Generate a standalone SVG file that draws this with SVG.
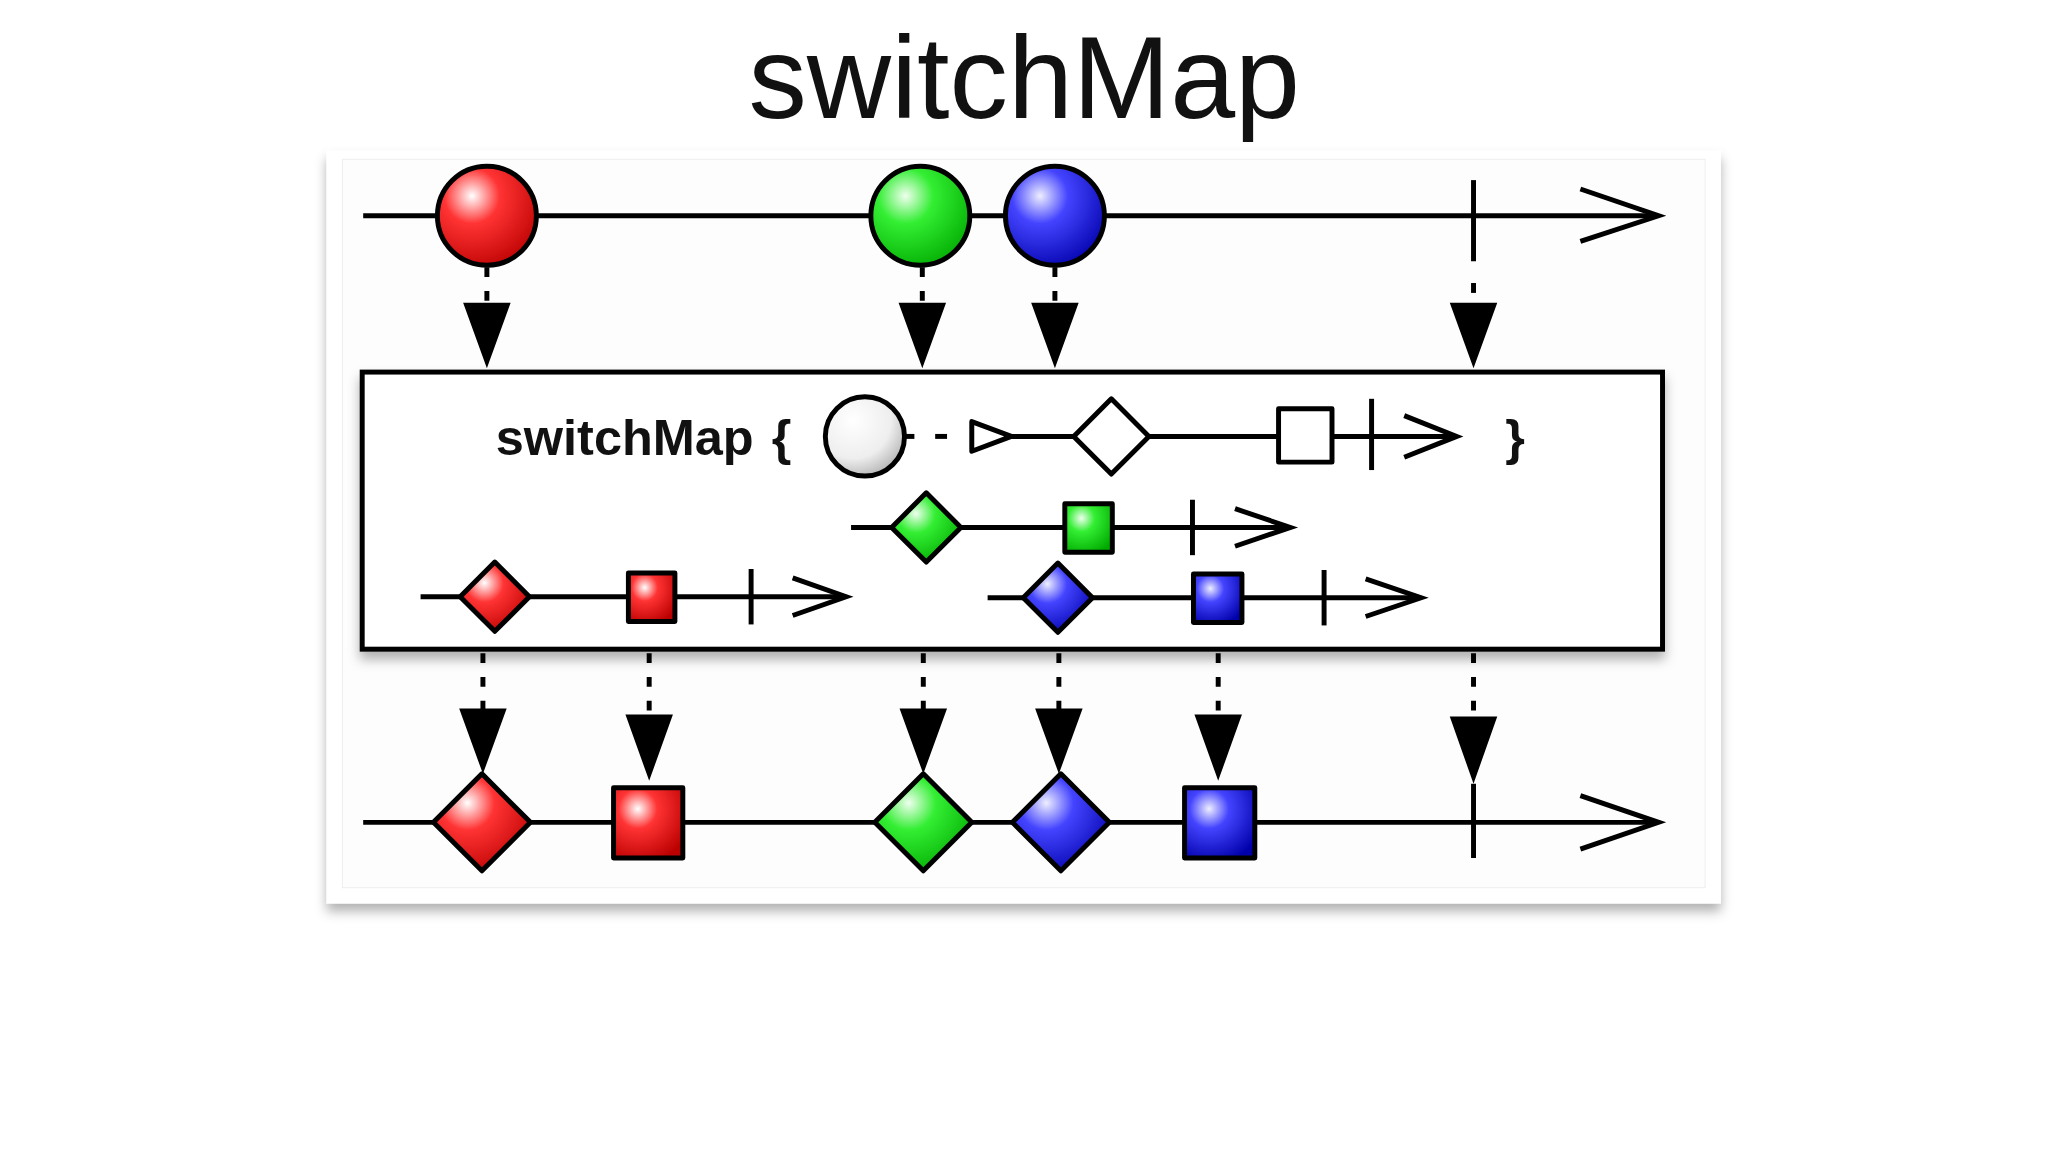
<svg xmlns="http://www.w3.org/2000/svg" width="2048" height="1152" viewBox="0 0 2048 1152">
<defs>
<style>
.ln{stroke:#000;stroke-width:5;fill:none}
.sh{stroke:#000;stroke-width:5;stroke-linejoin:round}
.ds{stroke:#000;stroke-width:5;stroke-dasharray:10 14;fill:none}
.t{font-family:"Liberation Sans",Arial,sans-serif}
</style>
<radialGradient id="gr" cx="0.35" cy="0.3" r="0.8"><stop offset="0" stop-color="#fff"/><stop offset="0.35" stop-color="#f33"/><stop offset="1" stop-color="#b00"/></radialGradient>
<radialGradient id="gg" cx="0.35" cy="0.3" r="0.8"><stop offset="0" stop-color="#efe"/><stop offset="0.35" stop-color="#3e3"/><stop offset="1" stop-color="#0a0"/></radialGradient>
<radialGradient id="gb" cx="0.35" cy="0.3" r="0.8"><stop offset="0" stop-color="#eef"/><stop offset="0.35" stop-color="#44f"/><stop offset="1" stop-color="#00a"/></radialGradient>
<radialGradient id="gw" cx="0.35" cy="0.3" r="0.8"><stop offset="0" stop-color="#fff"/><stop offset="0.6" stop-color="#eee"/><stop offset="1" stop-color="#aaa"/></radialGradient>
<filter id="sd" x="-5%" y="-5%" width="110%" height="115%"><feDropShadow dx="0" dy="8" stdDeviation="6" flood-color="#000" flood-opacity="0.3"/></filter>
</defs>
<rect width="2048" height="1152" fill="#fff"/>
<g transform="scale(0.9896)">
<text class="t" x="1035" y="119" font-size="118" text-anchor="middle" fill="#111">switchMap</text>
<g id="card">
<rect x="330" y="152" width="1409" height="761" fill="#fff" filter="url(#sd)"/>
<rect x="346" y="161" width="1377" height="736" fill="#fdfdfd" stroke="#eee" stroke-width="1"/>
</g>
<g id="connectors">
<line class="ds" x1="492" y1="270" x2="492" y2="310"/>
<line class="ds" x1="932" y1="270" x2="932" y2="310"/>
<line class="ds" x1="1066" y1="270" x2="1066" y2="310"/>
<line class="ds" x1="1489" y1="286" x2="1489" y2="310"/>
<path d="M468 306 L516 306 L492 372Z M908 306 L956 306 L932 372Z M1042 306 L1090 306 L1066 372Z M1465 306 L1513 306 L1489 372Z"/>
<line class="ds" x1="488" y1="660" x2="488" y2="720"/>
<line class="ds" x1="656" y1="660" x2="656" y2="720"/>
<line class="ds" x1="933" y1="660" x2="933" y2="720"/>
<line class="ds" x1="1070" y1="660" x2="1070" y2="720"/>
<line class="ds" x1="1231" y1="660" x2="1231" y2="720"/>
<line class="ds" x1="1489" y1="660" x2="1489" y2="720"/>
<path d="M464 716 L512 716 L488 782Z M632 722 L680 722 L656 789Z M909 716 L957 716 L933 782Z M1046 716 L1094 716 L1070 782Z M1207 722 L1255 722 L1231 789Z M1465 724 L1513 724 L1489 792Z"/>
</g>
<g id="source">
<line class="ln" x1="367" y1="218" x2="1674" y2="218"/>
<polyline class="ln" points="1597,191 1676,218 1597,244"/>
<line class="ln" x1="1489" y1="182" x2="1489" y2="264"/>
<circle class="sh" cx="492" cy="218" r="50" fill="url(#gr)"/>
<circle class="sh" cx="930" cy="218" r="50" fill="url(#gg)"/>
<circle class="sh" cx="1066" cy="218" r="50" fill="url(#gb)"/>
</g>
<g id="operator">
<rect x="366" y="376" width="1314" height="280" fill="#fff" stroke="#000" stroke-width="5" filter="url(#sd)"/>
<text class="t" x="501" y="460" font-size="51" font-weight="bold" fill="#111">switchMap <tspan dx="4">{</tspan></text>
<text class="t" x="1521" y="460" font-size="51" font-weight="bold" fill="#111">}</text>
<line class="ln" x1="914" y1="441" x2="924" y2="441"/>
<line class="ln" x1="945" y1="441" x2="957" y2="441"/>
<circle class="sh" cx="874" cy="441" r="40" fill="url(#gw)"/>
<polygon class="sh" points="982,426 1022,441 982,456" fill="#fff"/>
<line class="ln" x1="1022" y1="441" x2="1470" y2="441"/>
<polyline class="ln" points="1419,420 1472,441 1419,462"/>
<line class="ln" x1="1386" y1="403" x2="1386" y2="475"/>
<polygon class="sh" points="1123,403 1161,441 1123,479 1085,441" fill="#fff"/>
<rect class="sh" x="1292" y="413" width="54" height="54" fill="#fff"/>
<line class="ln" x1="860" y1="533" x2="1302" y2="533"/>
<polyline class="ln" points="1248,514 1304,533 1248,552"/>
<line class="ln" x1="1205" y1="505" x2="1205" y2="561"/>
<polygon class="sh" points="936,498 971,533 936,568 901,533" fill="url(#gg)"/>
<rect class="sh" x="1076" y="509" width="48" height="49" fill="url(#gg)"/>
<line class="ln" x1="425" y1="603" x2="853" y2="603"/>
<polyline class="ln" points="801,584 855,603 801,622"/>
<line class="ln" x1="759" y1="575" x2="759" y2="631"/>
<polygon class="sh" points="500,568 535,603 500,638 465,603" fill="url(#gr)"/>
<rect class="sh" x="635" y="579" width="47" height="49" fill="url(#gr)"/>
<line class="ln" x1="998" y1="604" x2="1434" y2="604"/>
<polyline class="ln" points="1380,585 1436,604 1380,623"/>
<line class="ln" x1="1338" y1="576" x2="1338" y2="632"/>
<polygon class="sh" points="1069,569 1104,604 1069,639 1034,604" fill="url(#gb)"/>
<rect class="sh" x="1206" y="580" width="49" height="49" fill="url(#gb)"/>
</g>
<g id="result">
<line class="ln" x1="367" y1="831" x2="1674" y2="831"/>
<polyline class="ln" points="1597,804 1676,831 1597,858"/>
<line class="ln" x1="1489" y1="792" x2="1489" y2="867"/>
<polygon class="sh" points="487,782 536,831 487,880 438,831" fill="url(#gr)"/>
<rect class="sh" x="620" y="796" width="70" height="71" fill="url(#gr)"/>
<polygon class="sh" points="933,782 982,831 933,880 884,831" fill="url(#gg)"/>
<polygon class="sh" points="1072,782 1121,831 1072,880 1023,831" fill="url(#gb)"/>
<rect class="sh" x="1197" y="796" width="71" height="71" fill="url(#gb)"/>
</g>
</g>
</svg>
